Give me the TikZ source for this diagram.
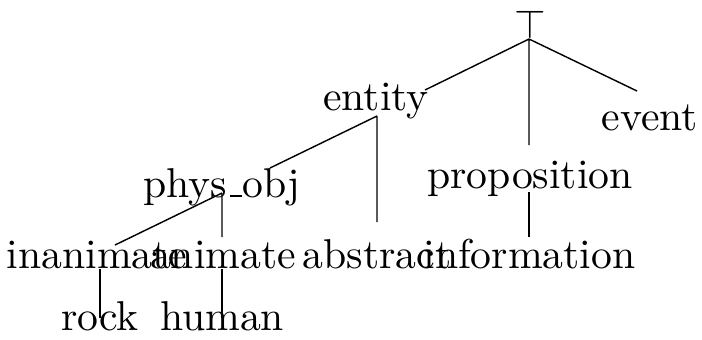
\documentclass[tikz,border=0pt]{standalone}
\usepackage{tikz}
\tikzset{lbl/.style={anchor=base,inner sep=0pt,outer sep=0pt,font=\fontsize{10.3pt}{12pt}\selectfont},
  branch/.style={line width=0.35pt}}
\newcommand{\lowbar}{\kern.06em\vbox{\hrule width.3em}}
\begin{document}
\begin{tikzpicture}[x=0.247pt,y=-0.247pt]
  \useasboundingbox (0,0) rectangle (702,339);
  % the words
  \node[lbl] (top) at (530,38) {$\top$};
  \node[lbl] (entity) at (376,110) {entity};
  \node[lbl] (event) at (650,130) {event};
  \node[lbl] (proposition) at (530,188) {proposition};
  \node[lbl] (physobj) at (222,197) {phys\lowbar obj};
  \node[lbl] (inanimate) at (97,268) {inanimate};
  \node[lbl] (animate) at (223,268) {animate};
  \node[lbl] (abstract) at (377,268) {abstract};
  \node[lbl] (information) at (529.5,268) {information};
  \node[lbl] (rock) at (100,330) {rock};
  \node[lbl] (human) at (222,330) {human};
  % where the branches start and stop
  \coordinate (top-foot) at (529,39);
  \coordinate (entity-tip) at (425,90);
  \coordinate (event-tip) at (637,91);
  \coordinate (proposition-tip) at (529,145);
  \coordinate (entity-foot) at (377,116);
  \coordinate (physobj-tip) at (270,168);
  \coordinate (abstract-tip) at (377,222);
  \coordinate (physobj-foot) at (222,193);
  \coordinate (inanimate-tip) at (115,245);
  \coordinate (animate-tip) at (222,237);
  \coordinate (proposition-foot) at (529,192);
  \coordinate (information-tip) at (529,237);
  \coordinate (inanimate-foot) at (100,269);
  \coordinate (rock-tip) at (100,318);
  \coordinate (animate-foot) at (222,269);
  \coordinate (human-tip) at (222,318);
  % branches
  \draw[branch] (top-foot) -- (entity-tip) (top-foot) -- (event-tip) (top-foot) -- (proposition-tip);
  \draw[branch] (entity-foot) -- (physobj-tip) (entity-foot) -- (abstract-tip);
  \draw[branch] (physobj-foot) -- (inanimate-tip) (physobj-foot) -- (animate-tip);
  \draw[branch] (proposition-foot) -- (information-tip);
  \draw[branch] (inanimate-foot) -- (rock-tip) (animate-foot) -- (human-tip);
\end{tikzpicture}
\end{document}
